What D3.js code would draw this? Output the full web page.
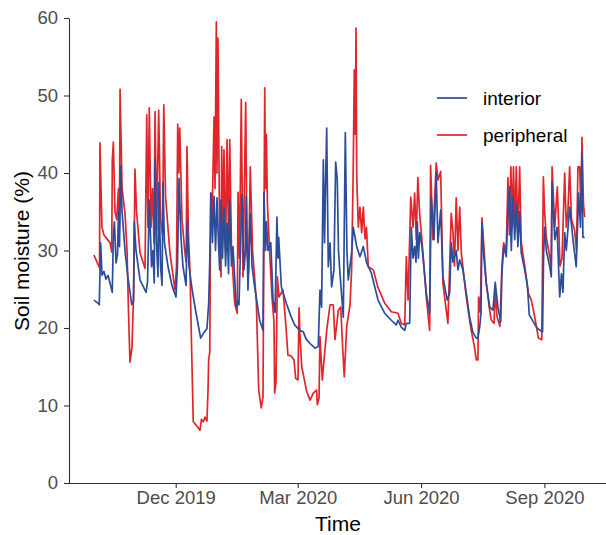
<!DOCTYPE html>
<html>
<head>
<meta charset="utf-8">
<script src="https://cdn.jsdelivr.net/npm/d3@7"></script>
<style>
  html, body { margin: 0; padding: 0; background: #ffffff; }
  svg { display: block; }
  text { font-family: "Liberation Sans", Arial, sans-serif; }
</style>
</head>
<body>
<svg id="chart" width="606" height="535"></svg>
<script>
// ---- data (day offsets from 2019-10-01, soil moisture %) ----
const seriesNames = ["interior", "peripheral"];
const tickLabelsX = ["2019-12-01", "2020-03-01", "2020-06-01", "2020-09-01"];
const tickValuesY = [0, 10, 20, 30, 40, 50, 60];

const interiorDays = [0,3,4,5,6,7.5,9,10.5,12,13.7,14.5,15.3,16.5,17.6,18.3,19.1,20,21,23.2,25.4,28.2,29.5,30.1,31.4,34.4,38.9,40,41.3,43,44,45,45.6,46.7,47.8,48.5,49.7,50.8,51.5,52.6,55.3,58.2,61.2,62.3,63.5,65,66.4,68.7,69.7,70.9,73.2,76.1,79.6,82,84.3,85.6,86.6,87.3,88.4,89.6,90.7,91.8,92.9,93.8,94.8,95.9,97,98.2,99.3,100.4,101.3,102.6,103.7,106.2,107.5,108.2,110.4,111.9,113,113.6,114.9,116.6,117.9,119.9,123.6,126.1,126.8,128,128.7,129.8,131.9,133.6,135.1,136.5,137.3,137.8,139.8,143.5,147.2,149.7,153.5,156.2,158.2,161.2,164.9,167.3,168.6,169.8,171.1,172,172.7,173.6,174.8,176.1,177.3,179,180.3,181.5,182.4,183.5,186,187.5,188.7,189.7,192.2,193.4,196,198.4,200.9,203.4,206.9,211.9,216.9,221.8,225.5,226.8,229.2,231.8,233,235.5,236.1,236.7,238,239.2,240.2,241.2,242,243,244.7,247.9,250.4,251.6,253.6,255.3,256.6,258.6,260.3,263.5,265.3,266.5,267.8,270.2,271.5,272.8,275.2,277.7,280.2,282.7,285.2,286.4,287.7,288.7,289.4,290.9,292.6,295.2,297.6,299.3,301.3,303.4,304.3,305.6,307.5,308.8,310,311.3,312.5,313.8,315,316.2,317.5,318.7,321.3,323.3,324.7,327.7,330.5,332.7,334.6,335.4,336.1,337.4,340,341.1,341.7,343.7,345.4,347.4,348.7,349.8,351.1,352.3,354.8,357.3,359.7,361.5,362.9,364,364.7,366];
const interiorValues = [23.6,23.2,23.0,31.0,26.8,27.3,26.3,26.8,25.8,24.6,32.0,33.7,28.4,29.5,35.0,30.5,41.0,35.0,30.0,26.5,23.0,23.4,33.7,30.0,26.2,24.6,26.0,36.5,27.9,30.0,25.8,41.9,31.0,26.6,38.8,28.0,25.5,38.8,31.0,27.9,25.5,24.0,28.0,39.3,31.5,28.0,25.5,33.9,28.0,25.0,22.0,18.7,19.4,19.9,23.2,30.0,37.4,31.0,37.0,30.0,36.8,31.0,27.5,36.5,29.0,35.5,28.0,33.5,27.0,36.5,28.0,30.5,22.6,23.5,23.0,37.2,27.5,30.0,37.0,24.9,34.8,28.0,25.3,21.0,19.7,37.5,30.0,33.7,30.0,31.0,23.6,22.0,34.3,29.0,31.7,25.3,23.2,21.4,20.4,19.7,19.5,18.6,18.0,17.4,17.6,24.9,22.7,41.7,31.0,38.0,45.8,27.9,31.0,25.3,27.5,41.4,39.1,30.0,27.1,21.4,45.2,30.0,26.2,29.7,33.0,30.5,29.2,30.5,28.4,27.1,23.6,21.9,21.0,20.4,21.0,20.1,19.7,20.6,20.6,27.0,33.0,29.0,30.5,28.5,33.7,29.0,32.3,30.5,24.5,21.9,36.9,31.4,40.0,31.0,35.2,26.6,23.6,24.5,31.0,28.5,30.0,27.5,28.8,27.5,24.5,21.4,19.4,18.7,18.7,20.1,21.9,33.5,29.0,25.8,22.7,22.3,25.9,22.7,20.8,27.1,30.5,29.2,35.0,38.2,30.0,37.0,31.4,36.0,30.5,35.0,29.7,27.5,25.5,21.7,20.8,20.0,19.7,19.5,29.7,33.0,30.0,27.9,26.6,38.7,31.4,33.0,24.0,27.0,24.6,32.3,30.0,35.6,31.4,27.9,37.4,33.0,42.6,31.7,31.7];

const peripheralDays = [0,1.6,3.3,4.2,4.5,6,7.5,9.8,12,13.3,13.7,14.5,15.7,17,18.3,19,19.5,21,23.2,24.7,25.8,26.9,28.4,29.7,30.6,31.8,34.4,38.1,39.4,40.3,41.3,42.6,43.7,44.8,45.6,46.8,48.3,49.7,51.2,52.1,53.4,56.7,60.5,61.6,62.5,63.3,64,65.7,67.9,68.8,69.4,70.5,71.7,72.9,74.1,76.1,77.6,79.1,80.2,81.6,82.8,84.3,85.1,85.6,86.4,87.1,88.1,89.6,90.3,91.3,91.8,92.5,93.7,94.8,95.3,96.3,97,98.2,99.3,100.4,101.3,102.6,105,106.9,107.5,108.6,109.9,111.2,113.2,114.2,115.3,116.6,118.3,121.1,122.9,124.8,126.1,127.4,128,128.6,129.4,131.1,132.8,134.3,134.8,135.8,136.8,138,141,143.3,144.7,147,149.2,150.5,152.2,153,153.7,155,158.7,161.2,163.6,166.1,166.6,167.9,168.6,170.3,173.6,176.1,178.5,179.8,182.3,184.1,185.6,186.7,188.5,191,192.2,193.4,194.2,194.9,195.5,196,197.2,198.4,199.7,200.9,202.2,203.3,204.6,208.4,211.9,216.9,221.8,226.8,229.2,231.8,233,234.3,236.3,238,239.2,240.4,241.6,242.9,245.4,247.9,250.4,251.1,252.8,255.3,256.6,258.6,260.3,264,266.5,267.8,268.9,270.2,271.5,272.8,274,277.7,280.2,281.4,283.9,285.2,286.4,286.9,288.2,289.4,292.6,295.2,296.4,298.4,299.3,300.6,302.8,304.3,305.6,307.5,308.8,309.9,311,311.8,312.9,314,315,316.2,317.5,318.7,321.3,324,326.2,328.8,331.5,334,335.2,336.1,337.4,340,341.1,341.7,343.7,345.6,346.5,347.6,349.1,351.1,352.3,353.5,354.8,356.2,358.5,359.9,361,362.3,363.2,364,365.1,366];
const peripheralValues = [29.4,28.8,28.1,27.8,43.9,33.0,32.0,31.5,31.0,29.8,41.6,44.0,35.0,34.0,38.0,33.0,50.8,38.0,34.8,30.0,22.0,15.6,17.5,25.0,40.5,35.0,29.7,27.7,47.5,33.0,48.4,33.0,38.0,31.0,47.9,32.6,48.1,34.0,32.0,48.8,37.0,29.7,24.9,28.0,46.3,40.0,45.8,34.0,29.7,28.5,43.4,32.0,27.1,17.0,7.9,7.5,7.2,6.8,8.2,7.9,8.5,8.0,12.0,16.0,16.8,37.4,34.0,47.2,38.0,59.5,40.0,57.4,33.0,26.6,43.4,32.0,43.0,30.0,44.3,31.0,44.3,30.0,23.2,21.9,37.5,29.0,49.5,26.6,49.1,30.0,27.0,40.8,30.0,23.6,12.0,9.7,11.1,51.0,38.0,45.0,36.0,29.7,24.0,20.8,11.6,13.0,26.6,24.0,24.9,20.0,16.5,16.4,15.9,13.5,13.3,22.6,18.9,15.0,11.8,10.7,11.6,12.0,10.1,11.0,18.9,13.3,19.7,23.0,23.0,18.5,22.3,22.7,17.2,13.7,20.1,23.0,27.5,40.4,53.3,45.0,58.7,39.5,33.0,35.6,32.3,35.6,31.5,33.0,27.9,27.5,25.2,23.2,22.1,21.9,20.6,20.4,29.2,23.6,36.9,33.0,37.4,31.4,39.4,34.8,29.7,24.0,19.7,41.0,31.4,41.3,39.1,40.2,25.8,20.6,34.8,32.3,28.0,36.8,30.0,35.6,29.7,24.0,21.0,19.7,17.5,15.9,15.9,24.0,22.0,34.2,25.8,22.2,21.0,20.6,25.0,21.5,20.2,28.0,31.0,30.0,39.4,32.0,40.8,33.0,40.8,33.0,40.8,32.0,40.8,31.0,28.0,24.5,23.6,21.4,18.7,18.5,39.5,35.0,31.7,29.2,28.0,40.8,33.0,38.2,33.9,28.0,29.0,40.0,33.0,35.0,40.8,34.0,32.6,30.0,40.8,40.8,35.0,44.6,36.0,34.3];

// ---- drawing ----
const svg = d3.select("#chart");
const width = 606, height = 535;

const startDate = new Date(2019, 9, 1);
const toDate = d => new Date(startDate.getTime() + d * 86400000);

const x = d3.scaleTime()
  .domain([new Date(2019, 8, 12, 10), new Date(2020, 9, 16, 22)])
  .range([69, 606]);
const y = d3.scaleLinear().domain([0, 60]).range([483, 18]);

const colors = { interior: "#2c4c9c", peripheral: "#e0262b" };

const interior = interiorDays.map((d, i) => ({ date: toDate(d), v: interiorValues[i] }));
const peripheral = peripheralDays.map((d, i) => ({ date: toDate(d), v: peripheralValues[i] }));

const line = d3.line().x(d => x(d.date)).y(d => y(d.v));

svg.append("rect").attr("width", width).attr("height", height).attr("fill", "#fff");

// series: peripheral first, interior on top
svg.append("path").datum(peripheral)
  .attr("d", line).attr("fill", "none")
  .attr("stroke", colors.peripheral).attr("stroke-width", 1.7)
  .attr("stroke-linejoin", "round");
svg.append("path").datum(interior)
  .attr("d", line).attr("fill", "none")
  .attr("stroke", colors.interior).attr("stroke-width", 1.7)
  .attr("stroke-linejoin", "round");

// axes
const xAxis = d3.axisBottom(x)
  .tickValues(tickLabelsX.map(s => { const p = s.split("-"); return new Date(+p[0], +p[1] - 1, +p[2]); }))
  .tickFormat(d3.timeFormat("%b %Y"))
  .tickSize(5).tickPadding(3).tickSizeOuter(0);
const gx = svg.append("g").attr("transform", "translate(0,483)").call(xAxis);

const yAxis = d3.axisLeft(y).tickValues(tickValuesY).tickSize(5).tickPadding(6).tickSizeOuter(0);
const gy = svg.append("g").attr("transform", "translate(69,0)").call(yAxis);

[gx, gy].forEach(g => {
  g.select(".domain").attr("stroke", "#333").attr("stroke-width", 1.1);
  g.selectAll(".tick line").attr("stroke", "#333").attr("stroke-width", 1.1);
  g.selectAll(".tick text").attr("fill", "#4d4d4d")
    .style("font-family", "'Liberation Sans', Arial, sans-serif")
    .style("font-size", "18.5px");
});
gx.select(".domain").attr("d", "M69,0.5H606");

// axis titles
svg.append("text").attr("x", 338).attr("y", 531)
  .attr("text-anchor", "middle").attr("fill", "#000")
  .style("font-size", "21px").text("Time");
svg.append("text").attr("transform", "translate(29,251) rotate(-90)")
  .attr("text-anchor", "middle").attr("fill", "#000")
  .style("font-size", "21px").text("Soil moisture (%)");

// legend
const legendY = [98, 135];
seriesNames.forEach((name, i) => {
  svg.append("line").attr("x1", 437).attr("x2", 467)
    .attr("y1", legendY[i]).attr("y2", legendY[i])
    .attr("stroke", colors[name]).attr("stroke-width", 1.7);
  svg.append("text").attr("x", 483).attr("y", legendY[i]).attr("dy", "0.35em")
    .attr("fill", "#000").style("font-size", "19px").text(name);
});
</script>
</body>
</html>
